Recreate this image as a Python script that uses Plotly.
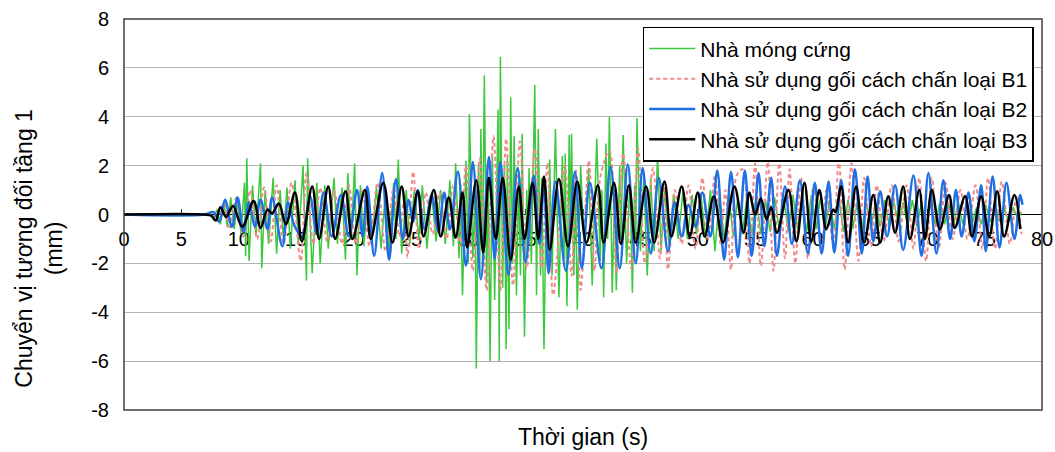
import plotly.graph_objects as go

# nhà móng cứng (green, spiky) - extremes
rigid_t = [0, 7.0, 7.5, 7.8, 8.1, 8.4, 8.7, 9.0, 9.3, 9.6, 9.9, 10.2, 10.5, 10.6, 10.7, 10.9,
           11.2, 11.5, 11.9, 12.0, 12.3, 12.6, 13.0, 13.3, 13.6, 13.9, 14.2, 14.5, 14.9, 15.2,
           15.6, 15.9, 16.0, 16.4, 16.8, 17.1, 17.5, 17.8, 18.3, 18.6, 19.0, 19.3, 19.5, 19.8,
           20.1, 20.3, 20.6, 20.9, 21.3, 21.6, 22.0, 22.4, 22.8, 23.1, 23.5, 23.7, 23.9, 24.2,
           24.6, 24.9, 25.3, 25.7, 26.0, 26.4, 26.8, 27.2, 27.6, 28.0, 28.4, 28.7, 28.9, 29.2,
           29.3, 29.5, 29.8, 30.0, 30.1, 30.4, 30.6, 30.7, 30.9, 31.0, 31.1, 31.25, 31.4, 31.6,
           31.75, 31.9, 32.1, 32.3, 32.6, 32.7, 32.8, 33.0, 33.15, 33.3, 33.4, 33.55, 33.7, 33.85,
           34.0, 34.2, 34.4, 34.55, 34.7, 34.9, 35.1, 35.2, 35.3, 35.5, 35.8, 35.95, 36.1, 36.3,
           36.4, 36.6, 36.8, 37.0, 37.1, 37.3, 37.6, 37.9, 38.2, 38.35, 38.45, 38.6, 38.8, 38.9,
           39.0, 39.2, 39.35, 39.5, 39.8, 40.1, 40.5, 40.8, 41.2, 41.5, 41.65, 41.8, 42.0, 42.15,
           42.3, 42.55, 42.75, 42.9, 43.2, 43.3, 43.5, 43.8, 44.1, 44.3, 44.5, 44.6, 44.7, 45.0,
           45.3, 45.6, 45.9, 46.2, 46.5, 46.8, 47.1, 47.5, 47.9, 48.3, 48.7, 49.1, 49.5, 49.9,
           50.3, 50.7, 51.1, 51.5, 51.9, 52.3, 52.7, 53.1, 53.5, 53.9, 54.3, 54.7, 55.1, 55.5,
           55.9, 56.3, 56.7, 57.1, 57.5, 57.9, 58.3, 58.7, 59.1, 59.5, 59.9, 60.3, 60.7, 61.1,
           61.5, 61.9, 62.3, 62.7, 63.1, 63.5, 63.9, 64.3, 64.7, 65.1, 65.5, 65.9, 66.3, 66.7,
           67.1, 67.5, 67.9, 68.3, 68.7, 69.1, 69.5, 69.9, 70.3, 70.7, 71.1, 71.5, 71.9, 72.3,
           72.7, 73.1, 73.5, 73.9, 74.3, 74.7, 75.1, 75.5, 75.9, 76.3, 76.7, 77.1, 77.5, 77.9, 78.2]
rigid_v = [0, 0, 0.05, -0.15, 0.2, -0.4, 0.5, -0.5, 0.7, -0.6, 0.5, -0.8, 1.3, -1.7, 2.3, -1.9,
           1.2, -0.9, 2.1, -2.2, 1.0, -1.2, 1.5, -1.6, 1.0, -1.0, 1.1, -1.4, 1.4, -1.2,
           2.0, -2.7, 2.3, -2.4, 1.3, -2.0, 1.2, -1.4, 1.5, -1.2, 1.1, -1.85, 1.7, -1.0,
           2.1, -2.5, 1.2, -1.3, 1.0, -1.2, 1.1, -1.4, 1.0, -1.5, 1.3, -1.0, 2.25, -1.6,
           1.0, -1.2, 1.0, -1.0, 1.2, -1.4, 0.9, -1.1, 1.0, -1.2, 1.4, -1.3, 2.1, -1.8,
           1.3, -3.3, 2.2, -2.0, 4.1, -1.8, 1.0, -6.3, 2.0, -2.5, 3.5, -2.0, 5.7, -2.8,
           1.5, -6.0, 2.5, -3.5, 4.3, -6.0, 6.45, -3.0, 2.0, -5.5, 2.3, -4.7, 4.8, -2.0,
           3.2, -3.3, 1.5, -2.5, 3.3, -5.0, 1.0, -1.5, 1.9, -2.0, 5.3, -3.3, 3.5, -2.5,
           1.5, -5.5, 1.0, -2.0, 2.25, -2.5, 3.5, -3.4, 2.4, -1.8, 2.5, -3.75, 3.25, -1.0,
           3.3, -2.5, 1.2, -3.9, 2.0, -1.5, 1.9, -2.9, 3.1, -1.9, 1.0, -3.4, 2.9, -1.0,
           4.0, -3.2, 1.0, -3.1, 2.0, -1.0, 3.25, -2.0, 1.5, -3.2, 1.2, -1.0, 3.95, -1.5,
           1.5, -2.5, 1.5, -1.5, 2.4, -1.5, 1.0, -1.2, 0.8, -1.0, 0.9, -1.0, 0.8, -0.8,
           0.7, -1.0, 1.0, -1.5, 0.8, -1.0, 0.8, -0.9, 0.7, -0.8, 0.8, -0.9, 0.7, -0.8,
           0.6, -0.7, 0.7, -0.6, 0.6, -0.7, 0.8, -0.6, 0.7, -0.7, 0.8, -0.6, 0.7, -0.6,
           0.6, -0.6, 0.7, -0.7, 0.6, -0.6, 0.5, -0.6, 0.5, -0.5, 0.5, -0.5, 0.6, -0.5,
           0.5, -0.4, 0.5, -0.5, 0.6, -0.5, 0.5, -0.4, 0.4, -0.4, 0.5, -0.4, 0.4, -0.4,
           0.5, -0.4, 0.4, -0.4, 0.3, -0.4, 0.4, -0.3, 0.3, -0.3, 0.3, -0.3, 0.3, -0.2, 0.1]

# gối cách chấn loại B1 (red dashed)
b1_t = [0, 7.0, 7.5, 8.2, 8.7, 9.2, 9.8, 10.4, 11.0, 11.6, 12.2, 12.8, 13.3, 13.9, 14.6,
        15.4, 15.9, 16.5, 17.1, 17.7, 18.3, 19.0, 19.6, 20.2, 20.8, 21.4, 22.1, 22.8, 23.5,
        24.0, 24.4, 24.7, 25.2, 25.7, 26.3, 26.9, 27.5, 28.1, 28.7, 29.3, 29.8, 30.4, 31.0,
        31.6, 32.2, 32.8, 33.3, 33.9, 34.5, 35.1, 35.8, 36.4, 36.9, 37.4, 38.4, 39.0, 39.4,
        39.8, 40.5, 41.0, 41.5, 42.3, 42.9, 43.5, 44.2, 44.8, 45.4, 46.1, 46.7, 47.1, 47.4,
        48.0, 48.6, 49.2, 49.8, 50.4, 50.9, 51.5, 52.0, 52.4, 52.9, 53.4, 53.9, 54.5, 55.0,
        55.5, 56.1, 56.6, 57.1, 57.6, 58.0, 58.5, 59.0, 59.6, 60.1, 60.8, 61.2, 61.8, 62.3,
        62.8, 63.4, 64.0, 64.5, 65.1, 65.6, 66.2, 66.9, 67.5, 68.2, 68.8, 69.3, 69.9, 70.4,
        71.0, 71.6, 72.2, 72.9, 73.5, 74.2, 74.8, 75.3, 75.9, 76.5, 77.2, 77.8, 78.2]
b1_v = [0, 0, 0, -0.3, 0.5, -0.6, 0.7, -0.9, 1.0, -1.0, 1.1, -1.1, 1.2, -1.2, 1.3,
        -1.9, 1.7, -1.2, 1.1, -1.1, 1.0, -1.2, 1.2, -1.2, 1.0, -1.3, 1.3, -1.5, 1.1,
        -0.9, 0.6, -1.75, 1.75, -1.4, 0.9, -0.8, 0.9, -1.0, 1.2, -1.3, 2.0, -2.3, 2.3,
        -3.1, 3.2, -3.1, 3.1, -2.9, 3.0, -2.2, 2.7, -2.2, 2.1, -3.3, 2.0, -2.5, 1.8,
        -3.1, 2.2, -2.3, 1.5, 2.6, -2.4, 2.5, -2.2, 2.7, -2.0, 1.9, -1.8, 1.3, -2.25,
        1.0, -1.2, 1.2, -1.4, 1.5, -1.0, 1.6, -1.2, 1.0, -2.25, 1.6, 1.85, -2.0, 2.1,
        -2.1, 2.15, -2.3, 2.1, -1.8, 1.85, -2.0, 1.5, -1.8, 1.2, -1.5, 1.0, -1.2, 2.25,
        -2.25, 2.1, -1.9, 1.5, -1.3, 1.2, -1.1, 1.2, -1.1, 1.2, -1.4, 1.5, -1.9, 1.5,
        -1.4, 1.3, -1.0, 1.0, -1.0, 1.2, -1.4, 1.5, -1.4, 1.35, -1.2, 0.8, -0.8]

# gối cách chấn loại B2 (blue)
b2_t = [0, 7.0, 7.8, 8.3, 8.8, 9.4, 9.9, 10.4, 10.9, 11.4, 11.9, 12.5, 12.9, 13.8, 14.3,
        14.8, 15.5, 16.2, 16.8, 17.4, 18.1, 18.9, 19.6, 20.3, 20.8, 21.2, 21.8, 22.5, 23.1,
        23.7, 24.3, 24.8, 25.2, 25.6, 26.2, 26.8, 27.4, 27.9, 28.4, 29.1, 29.8, 30.4, 31.1,
        31.8, 32.3, 32.8, 33.5, 34.3, 35.0, 35.7, 36.2, 36.6, 37.0, 37.6, 38.5, 39.3, 39.9,
        40.6, 41.6, 42.4, 43.2, 43.9, 44.6, 45.2, 45.9, 46.6, 47.4, 48.0, 48.6, 49.2, 49.8,
        50.4, 51.1, 51.7, 52.3, 52.9, 53.5, 54.1, 54.7, 55.3, 55.8, 56.4, 56.9, 57.6, 58.2,
        58.9, 59.6, 60.2, 60.8, 61.4, 61.9, 62.5, 63.1, 63.7, 64.3, 64.8, 65.3, 65.9, 66.5,
        67.2, 67.9, 68.8, 69.5, 70.1, 70.8, 71.4, 72.0, 72.5, 73.0, 73.6, 74.1, 74.7, 75.1,
        75.7, 76.3, 76.9, 77.6, 78.1, 78.3]
b2_v = [0, 0, 0.1, -0.3, 0.6, -0.5, 0.7, -0.7, 0.5, -0.5, 0.6, -0.6, 0.7, -1.3, 0.5,
        -0.4, -0.9, 0.75, -0.8, 0.9, -0.9, 0.8, -0.9, 1.0, -0.9, 1.15, -1.7, 1.7, -1.85,
        1.45, -1.0, 0.6, -0.3, 1.0, -0.6, 0.8, -0.7, 0.9, -0.6, 1.75, -2.1, 2.15, -2.65,
        2.35, -1.8, 2.15, -2.45, 1.9, -1.95, 1.6, -1.2, 1.3, -2.4, 1.35, -2.3, 1.75, -2.2,
        1.3, -2.2, 1.95, -2.2, 2.05, -2.0, 1.9, -1.6, 1.5, -1.5, 0.5, -0.9, 0.4, -0.5,
        0.9, -0.9, 1.8, -1.85, 1.75, -1.75, 1.8, -1.7, 1.7, -1.3, 1.5, -1.7, 1.15, -1.2,
        1.4, -1.6, 1.3, -1.6, 1.35, -1.55, 1.4, -1.7, 1.85, -1.6, 1.55, -1.1, 0.95, -0.9,
        1.2, -1.45, 1.6, -1.7, 1.7, -1.6, 1.4, -1.0, 1.0, -0.9, 0.9, -1.1, 1.2, -1.5,
        1.55, -1.35, 1.3, -1.0, 0.8, 0.4]

# gối cách chấn loại B3 (black)
b3_t = [0, 7.0, 7.6, 8.0, 8.4, 8.9, 9.5, 10.3, 11.3, 11.9, 12.5, 12.9, 13.5, 14.1, 14.9,
        15.5, 16.4, 17.0, 17.8, 18.4, 19.3, 19.9, 21.0, 21.5, 22.6, 23.4, 24.2, 24.8, 25.6,
        26.1, 27.0, 27.6, 28.3, 28.9, 29.5, 29.9, 30.7, 31.3, 31.8, 32.4, 33.0, 33.7, 34.4,
        34.9, 35.6, 36.1, 36.6, 37.1, 37.9, 38.7, 39.5, 40.3, 41.3, 41.8, 42.7, 43.3, 44.0,
        44.6, 45.5, 46.2, 47.1, 47.7, 48.6, 49.3, 50.0, 50.6, 51.4, 52.2, 53.2, 54.0, 54.5,
        55.0, 55.5, 56.0, 56.4, 56.9, 57.9, 58.6, 59.3, 59.9, 60.6, 61.2, 61.8, 62.0, 62.5,
        63.1, 63.8, 64.5, 65.3, 65.9, 66.6, 67.2, 67.9, 68.5, 69.3, 69.8, 70.4, 71.1, 71.9,
        72.4, 73.3, 73.9, 74.7, 75.4, 76.1, 76.7, 77.6, 78.1]
b3_v = [0, 0, -0.05, -0.25, 0.3, -0.1, 0.35, -0.5, 0.55, -0.55, 0.2, 0.05, 0.45, -0.4, 0.9,
        -1.1, 1.15, -1.0, 1.15, -1.0, 0.95, -1.0, 1.0, -1.0, 1.3, -1.15, 1.15, -0.9, 0.95,
        -0.9, 1.0, -0.9, 0.7, -0.95, 0.9, -1.35, 1.4, -1.55, 1.5, -1.0, 1.5, -1.85, 1.15,
        -1.0, 1.3, -1.0, 1.55, -1.45, 1.45, -1.3, 1.35, -1.15, 1.2, -1.15, 1.3, -1.2, 1.2,
        -1.15, 1.15, -1.15, 1.35, -0.9, 1.15, -0.9, 0.9, -0.9, 0.75, -1.15, 1.15, -0.75, 0.9,
        0.0, 0.65, -0.2, 0.3, -0.75, 1.0, -1.1, 1.3, -1.1, 1.0, -0.6, 0.2, 0.1, 1.15,
        -1.15, 1.15, -1.15, 0.8, -1.15, 0.75, -0.75, 1.15, -1.0, 1.0, -1.0, 1.0, -0.6, 0.8,
        -0.55, 0.75, -0.9, 0.75, -0.9, 0.95, -0.9, 0.8, -0.6]

names = [
    "Nhà móng cứng",
    "Nhà sử dụng gối cách chấn loại B1",
    "Nhà sử dụng gối cách chấn loại B2",
    "Nhà sử dụng gối cách chấn loại B3",
]
x_ticks = [0, 5, 10, 15, 20, 25, 30, 35, 40, 45, 50, 55, 60, 65, 70, 75, 80]
y_ticks = [-8, -6, -4, -2, 0, 2, 4, 6, 8]

FONT = "Liberation Sans, Arial, sans-serif"

fig = go.Figure()
fig.add_trace(go.Scatter(x=rigid_t, y=rigid_v, name=names[0], mode="lines",
                         line=dict(color="#3cc83c", width=1.5)))
fig.add_trace(go.Scatter(x=b1_t, y=b1_v, name=names[1], mode="lines",
                         line=dict(color="#f08a8a", width=2, dash="4px,3px", shape="spline")))
fig.add_trace(go.Scatter(x=b2_t, y=b2_v, name=names[2], mode="lines",
                         line=dict(color="#1f6fe5", width=2.5, shape="spline")))
fig.add_trace(go.Scatter(x=b3_t, y=b3_v, name=names[3], mode="lines",
                         line=dict(color="#000000", width=2.5, shape="spline")))

fig.update_layout(
    width=1055,
    height=452,
    margin=dict(l=124, r=13, t=19, b=42, autoexpand=False),
    paper_bgcolor="white",
    plot_bgcolor="white",
    font=dict(family=FONT, color="black", size=20),
    showlegend=True,
    legend=dict(
        x=0.991, y=0.98, xanchor="right", yanchor="top",
        bgcolor="white", bordercolor="black", borderwidth=1.5,
        font=dict(size=21, family=FONT, color="black"),
        itemwidth=46,
        tracegroupgap=0,
    ),
    xaxis=dict(
        range=[0, 80],
        tickvals=x_ticks,
        anchor="free",
        position=0.5,
        automargin=False,
        showgrid=False,
        zeroline=False,
        showline=False,
        ticks="inside",
        ticklen=6,
        tickcolor="#333333",
        ticklabelstandoff=10,
        tickfont=dict(size=20, family=FONT),
        layer="below traces",
    ),
    yaxis=dict(
        range=[-8, 8],
        tickvals=y_ticks,
        ticktext=[str(v) for v in y_ticks],
        automargin=False,
        showgrid=True,
        gridcolor="#b4b4b4",
        gridwidth=1,
        zeroline=True,
        zerolinecolor="black",
        zerolinewidth=1,
        showline=False,
        ticks="",
        ticklabelstandoff=14,
        tickfont=dict(size=20, family=FONT),
    ),
)

# plot frame
fig.add_shape(type="rect", xref="paper", yref="paper", x0=0, x1=1, y0=0, y1=1,
              line=dict(color="#404040", width=1.5), layer="above")

# axis titles
fig.add_annotation(text="Thời gian (s)", xref="paper", yref="paper", x=0.5, y=-0.069,
                   xanchor="center", yanchor="middle", showarrow=False,
                   font=dict(size=23, family=FONT))
fig.add_annotation(text="Chuyển vị tương đối tầng 1<br>(mm)", xref="paper", yref="paper",
                   x=-0.092, y=0.414, xanchor="center", yanchor="middle", textangle=-90,
                   showarrow=False, font=dict(size=23, family=FONT))

# page body has a default 8px margin; drop it so the figure sits at the window corner
fig.write_html("out.html", config={"displayModeBar": False},
               post_script="document.body.style.margin='0';")
